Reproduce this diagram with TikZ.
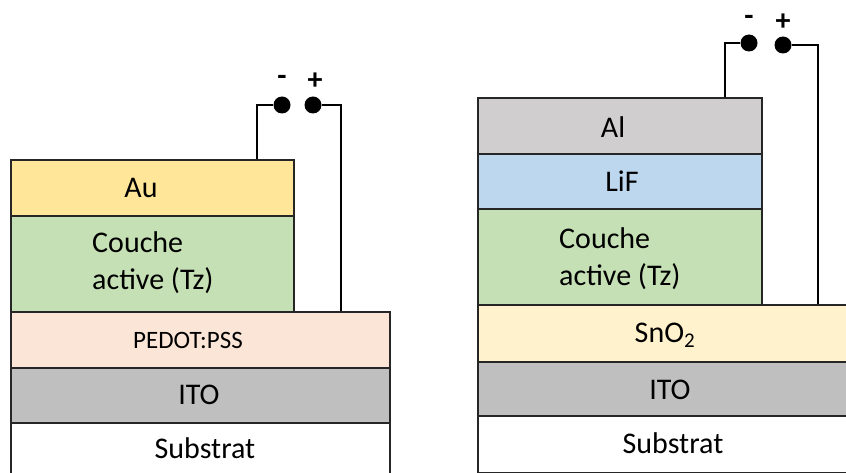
\documentclass[tikz,border=0pt]{standalone}
\usepackage{fontspec}
\setmainfont{Carlito}
\usetikzlibrary{positioning}
\usetikzlibrary{calc}
\definecolor{auyellow}{HTML}{FFE699}
\definecolor{actgreen}{HTML}{C5E0B4}
\definecolor{pedotpink}{HTML}{FBE5D6}
\definecolor{itogray}{HTML}{BFBFBF}
\definecolor{algray}{HTML}{D0CECE}
\definecolor{lifblue}{HTML}{BDD7EE}
\definecolor{snocream}{HTML}{FFF2CC}
\definecolor{edge}{HTML}{262626}

\begin{document}
\begin{tikzpicture}[x=1pt, y=-1pt,
    layer/.style={draw=edge, line width=1.8pt, inner sep=0pt, anchor=north west},
    txt/.style={font=\fontsize{30}{37}\selectfont, inner sep=0pt},
    smalltxt/.style={font=\fontsize{25}{30}\selectfont, inner sep=0pt},
    sign/.style={font=\fontsize{30}{37}\selectfont\bfseries, inner sep=0pt},
    pin/.style={circle, fill=black, minimum size=17pt, inner sep=0pt},
    wire/.style={line width=2pt}]
    \clip (0,0) rectangle (846,473);
    % the two stacks: name/left/top/right/bottom/colour
    \foreach \name/\a/\b/\c/\d/\col in {
        au/10/159/293/215/auyellow, actl/10/215/293/311/actgreen,
        pedot/10/311/389/367/pedotpink, itol/10/367/389/422/itogray,
        subl/10/422/389/480/white,
        al/477/97/761/153/algray, lif/477/153/761/208/lifblue,
        actr/477/208/761/304/actgreen, sno/477/304/870/361/snocream,
        itor/477/361/870/415/itogray, subr/477/415/870/472/white} {
        \node[layer, fill=\col, minimum width={(\c-\a)*1pt}, minimum height={(\d-\b)*1pt}] (\name) at (\a,\b) {};
    }
    % labels, left cell
    \node[txt] (au-t) at (141,188) {Au};
    \node[txt, align=left, anchor=west] (actl-t) at (92,263) {Couche\\active (Tz)};
    \node[smalltxt] (pedot-t) at (188,340) {PEDOT:PSS};
    \node[txt] (itol-t) at (199,395) {ITO};
    \node[txt] (subl-t) at (205,448) {Substrat};
    % labels, right cell
    \node[txt] (al-t) at (613,127) {Al};
    \node[txt] (lif-t) at (622,181) {LiF};
    \node[txt, align=left, anchor=west] (actr-t) at (559,259) {Couche\\active (Tz)};
    \node[txt] (sno-t) at (665,335) {SnO\textsubscript{2}};
    \node[txt] (itor-t) at (670,390) {ITO};
    \node[txt] (subr-t) at (673,443) {Substrat};
    % contacts, left cell
    \node[pin] (lminus) at (282,105) {};
    \node[pin] (lplus) at (313,105) {};
    \node[sign] (lminus-s) at (282,80) {-};
    \node[sign] (lplus-s) at (315,81) {+};
    \coordinate (lwa) at (257,159);
    \coordinate (lwb) at (341,311);
    \draw[wire] (lwa) |- (lminus);
    \draw[wire] (lplus) -| (lwb);
    % contacts, right cell
    \node[pin] (rminus) at (749,43) {};
    \node[pin] (rplus) at (783,45) {};
    \node[sign] (rminus-s) at (749,20) {-};
    \node[sign] (rplus-s) at (783,22) {+};
    \coordinate (rwa) at (725,97);
    \coordinate (rwb) at (818,304);
    \draw[wire] (rwa) |- (rminus);
    \draw[wire] (rplus) -| (rwb);
\end{tikzpicture}
\end{document}
